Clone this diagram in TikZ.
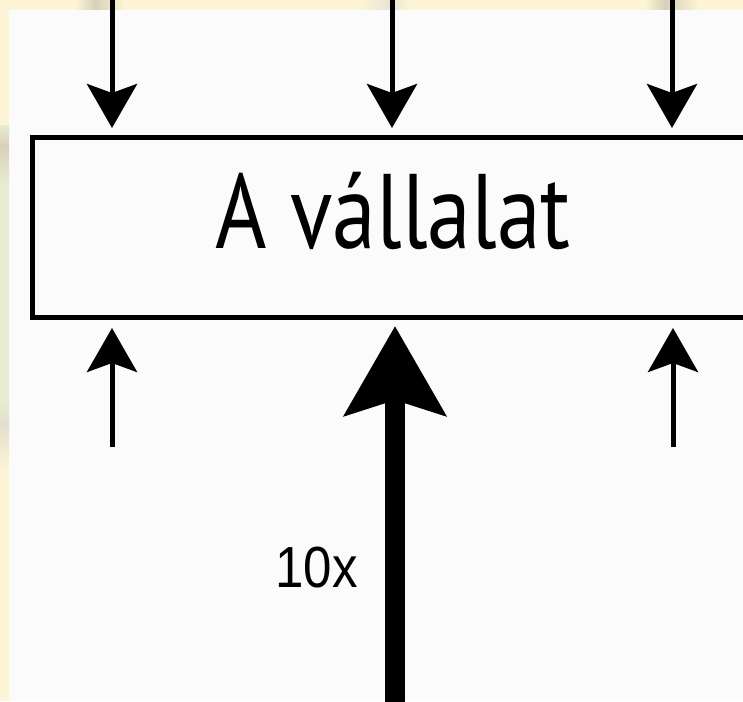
\documentclass[tikz,border=0pt]{standalone}
\usepackage{fontspec}
\setmainfont[FakeStretch=0.83]{PT Sans}
\newfontfamily\labelfont[FakeStretch=0.88]{Liberation Sans}
\usetikzlibrary{arrows.meta,positioning}
\definecolor{paper}{HTML}{FBFBFB}
\definecolor{strip}{HTML}{FDF5D5}
\definecolor{smudge}{HTML}{D9D0BA}
\definecolor{leaf}{HTML}{E6EDD3}

\begin{document}
\begin{tikzpicture}[x=1pt,y=-1pt,
  every node/.style = {inner sep=0pt},
  flow/.style = {line width=5pt, -{Stealth[length=44pt,width=50pt,inset=9pt]}},
  bigflow/.style = {line width=20pt, -{Stealth[length=89pt,width=100pt,inset=15pt]}}
]
  \useasboundingbox (0,0) rectangle (743,701);
  \clip (0,0) rectangle (743,701);

  % background and the slide edge
  \fill[paper] (0,0) rectangle (743,701);
  \fill[strip] (0,0) rectangle (9,701);
  \fill[leaf] (0,125) rectangle (9,470);
  \fill[strip] (0,0) rectangle (743,10);
  \shade[left color=strip, right color=smudge] (75,0) rectangle (95,10);
  \shade[left color=smudge, right color=strip] (95,0) rectangle (125,10);
  \shade[left color=strip, right color=smudge!60] (360,0) rectangle (390,10);
  \shade[left color=smudge!60, right color=strip] (390,0) rectangle (410,10);
  \shade[left color=strip, right color=smudge] (645,0) rectangle (665,10);
  \shade[left color=smudge, right color=strip] (665,0) rectangle (700,10);
  \shade[top color=leaf, bottom color=smudge] (0,125) rectangle (9,145);
  \shade[top color=smudge, bottom color=leaf] (0,145) rectangle (9,185);
  \shade[top color=leaf, bottom color=smudge!70] (0,400) rectangle (9,425);
  \shade[top color=smudge!70, bottom color=strip] (0,425) rectangle (9,470);

  % the firm
  \node[draw, line width=5pt, minimum width=721pt, minimum height=180pt] (firm) at (393,227.5) {};
  \node[anchor=base, font=\fontsize{106}{110}\selectfont] (firmname) at (393,248) {A vállalat};

  % small flows
  \coordinate (in1) at (112,0);
  \coordinate (in2) at (392,0);
  \coordinate (in3) at (672,0);
  \coordinate (up1) at (112,447);
  \coordinate (up3) at (673,447);
  \foreach \c in {in1,in2,in3}
    \draw[flow, shorten >=7pt] (\c) -- (\c |- firm.north);
  \foreach \c in {up1,up3}
    \draw[flow, shorten >=8pt] (\c) -- (\c |- firm.south);

  % the big one
  \coordinate (push) at (395,710);
  \draw[bigflow, shorten >=6pt] (push) -- (push |- firm.south);
  \node[anchor=base east, font=\labelfont\fontsize{58}{60}\selectfont] (times) at (358,587) {10x};
\end{tikzpicture}
\end{document}
